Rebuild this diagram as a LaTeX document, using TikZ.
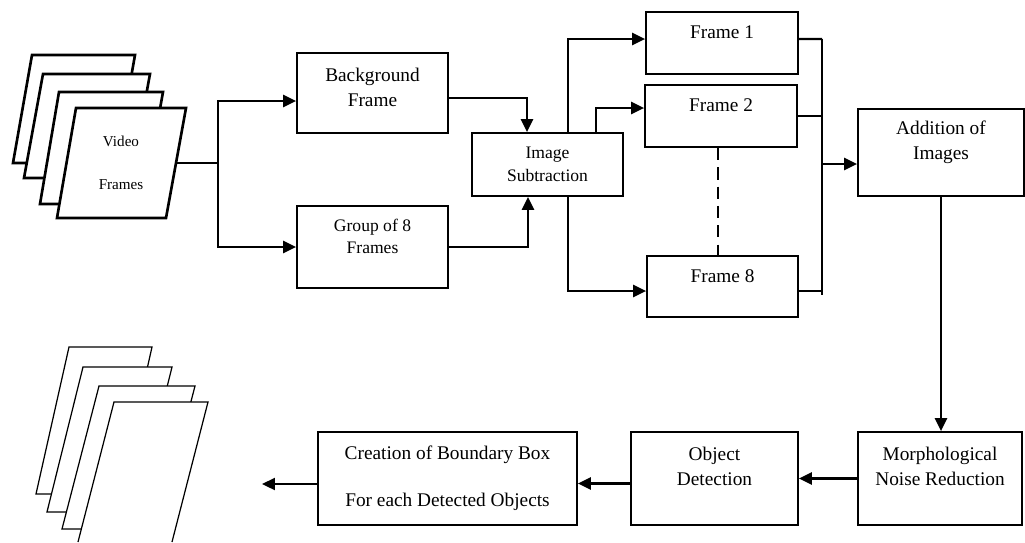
\documentclass[tikz,border=0pt]{standalone}
\usepackage{fontspec}
\setmainfont{Liberation Serif}
\usetikzlibrary{arrows.meta}

\begin{document}
\begin{tikzpicture}[x=0.02cm, y=-0.02cm,
        box/.style={draw, line width=1pt, minimum width=3.02cm, minimum height=1.24cm},
        txt/.style={align=center, font=\fontsize{11}{14}\selectfont},
        small/.style={align=center, font=\fontsize{10}{12.8}\selectfont},
        sheet/.style={draw, fill=white, line width=1.5pt},
        thinsheet/.style={draw, fill=white, line width=0.7pt},
        link/.style={line width=1.3pt},
        arrow/.style={-{Triangle[length=0.26cm, width=0.24cm]}, line width=1.3pt}
    ]
    \useasboundingbox (0,0) rectangle (1025,542);
    % input video frames
    \draw[sheet] (32,55) -- (135,55) -- (116,163) -- (13,163) -- cycle;
    \draw[sheet] (43,74) -- (150,74) -- (131,178) -- (24,178) -- cycle;
    \draw[sheet] (59,92) -- (163,92) -- (143,204) -- (40,204) -- cycle;
    \draw[sheet] (76,108) -- (186,108) -- (166,218) -- (57,218) -- cycle;
    \node[align=center, font=\fontsize{8.6}{10.5}\selectfont] (vid) at (121,163) {Video\\[0.49cm]Frames};
    \coordinate (vidout) at (176,163);
    \coordinate (split) at (218,163);
    % output frames
    \draw[thinsheet] (69,347) -- (152,347) -- (119,494) -- (36,494) -- cycle;
    \draw[thinsheet] (83,367) -- (172,367) -- (136,512) -- (47,512) -- cycle;
    \draw[thinsheet] (99,386) -- (195,386) -- (158,529) -- (62,529) -- cycle;
    \draw[thinsheet] (78,542) -- (114,402) -- (208,402) -- (172,542);
    \coordinate (outend) at (262,484);

    \node[box, minimum height=1.6cm, label={[txt, yshift=0.11cm]center:Background\\Frame}] (bg) at (372.5,93) {};
    \node[box, minimum height=1.64cm, label={[small, yshift=0.21cm]center:Group of 8\\Frames}] (grp) at (372.5,247) {};
    \node[box, minimum height=1.26cm, label={[small]center:Image\\Subtraction}] (sub) at (547.5,164.5) {};
    \node[box, minimum width=3.04cm, label={[txt, yshift=0.22cm]center:Frame 1}] (f1) at (722,43) {};
    \node[box, minimum width=3.04cm, label={[txt, yshift=0.22cm]center:Frame 2}] (f2) at (721,116) {};
    \node[box, minimum height=1.22cm, label={[txt, yshift=0.21cm]center:Frame 8}] (f8) at (722.5,286.5) {};
    \node[box, minimum width=3.32cm, minimum height=1.74cm, label={[txt, yshift=0.21cm]center:Addition of\\Images}] (add) at (941,152.5) {};
    \node[box, minimum width=3.28cm, minimum height=1.86cm, label={[txt, yshift=0.24cm]center:Morphological\\Noise Reduction}] (morph) at (940,478.5) {};
    \node[box, minimum width=3.34cm, minimum height=1.86cm, label={[txt, yshift=0.24cm]center:Object\\Detection}] (det) at (714.5,478.5) {};
    \node[box, minimum width=5.18cm, minimum height=1.86cm, label={[txt]center:Creation of Boundary Box\\[0.45cm]For each Detected Objects}] (bbox) at (447.5,478.5) {};

    \draw[link] (vidout) -- (split);
    \draw[arrow] (split) |- ([yshift=-0.16cm]bg.west);
    \draw[arrow] (split) |- (grp.west);
    \draw[arrow] ([yshift=-0.1cm]bg.east) -| ([xshift=-0.41cm]sub.north);
    \draw[arrow] (grp.east) -| ([xshift=-0.39cm]sub.south);
    \draw[arrow] ([xshift=0.41cm]sub.north) |- ([yshift=0.08cm]f1.west);
    \draw[arrow] ([xshift=0.97cm]sub.north) |- ([yshift=0.16cm]f2.west);
    \draw[arrow] ([xshift=0.41cm]sub.south) |- ([yshift=-0.09cm]f8.west);
    \coordinate (dashtop) at ([xshift=-0.06cm]f2.south);
    \draw[link, line width=1.4pt, dash pattern=on 7pt off 4pt] (dashtop) -- (dashtop |- f8.north);
    % collecting bus
    \coordinate (bustop) at (822,39);
    \coordinate (busbot) at (822,295);
    \draw[line width=1.6pt] (bustop) -- (busbot);
    \draw[link] ([yshift=0.08cm]f1.east) -- (bustop);
    \draw[link, line width=1.5pt] (f2.east) -- (f2.east -| bustop);
    \coordinate (f8out) at ([yshift=-0.09cm]f8.east);
    \draw[link] (f8out) -- (f8out -| bustop);
    \coordinate (addin) at ([yshift=-0.23cm]add.west);
    \draw[arrow] (addin -| bustop) -- (addin);
    \draw[arrow] (add.south) -- (add.south |- morph.north);
    \draw[arrow] (morph.west) -- (det.east);
    \draw[arrow] ([yshift=-0.1cm]det.west) -- ([yshift=-0.1cm]bbox.east);
    \draw[arrow] (bbox.west |- outend) -- (outend);
\end{tikzpicture}
\end{document}
